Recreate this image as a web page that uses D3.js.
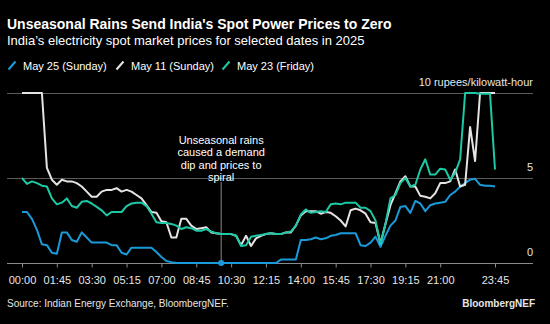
<!DOCTYPE html>
<html><head><meta charset="utf-8">
<script src="https://cdn.jsdelivr.net/npm/d3@7"></script>
<style>
html,body{margin:0;padding:0;background:#000;}
svg{display:block;font-family:"Liberation Sans",Arial,sans-serif;}
</style></head>
<body><svg id="c" width="550" height="324"></svg>
<script>
const times = d3.range(96).map(i => String(Math.floor(i/4)).padStart(2,"0") + ":" + String((i%4)*15).padStart(2,"0"));
const xTickLabels = ["00:00","01:45","03:30","05:15","07:00","08:45","10:30","12:15","14:00","15:45","17:30","19:15","21:00","23:45"];
const yTicks = [0,5,10];
const yTickLabels = ["0","5","10 rupees/kilowatt-hour"];
const seriesNames = ["May 25 (Sunday)","May 11 (Sunday)","May 23 (Friday)"];
const seriesColors = ["#1b9ad9","#e4e4e4","#1dc9a4"];

const may25 = [3.0,3.0,2.6,1.95,1.1,1.05,0.6,0.55,1.8,1.8,1.35,1.25,1.8,1.5,1.2,1.2,
  1.2,1.2,1.05,1.05,0.6,0.5,0.9,0.9,0.9,0.9,0.9,0.65,0.35,0.12,0.05,0,
  0,0,0,0,0,0,0,0,0,0,0,0,0,0,0,0,
  0,0,0,0,0.2,0.2,0.2,0.2,1.35,1.35,1.4,1.5,1.4,1.45,1.6,1.65,
  1.75,1.75,1.75,1.75,1.05,1.0,1.2,1.55,0.95,1.6,2.2,2.5,3.3,3.35,2.95,3.65,
  3.5,3.05,3.4,3.5,3.55,3.6,4.0,4.2,4.5,4.7,4.9,4.95,4.6,4.55,4.55,4.5];
const may11 = [10,10,10,10,10,5.6,4.9,4.6,4.9,4.8,4.8,4.7,4.5,4.2,3.9,3.9,
  4.2,4.3,4.3,4.4,4.2,4.3,4.2,4.0,3.8,3.4,3.0,2.95,2.45,2.4,1.5,1.5,
  2.6,2.6,2.2,2.0,2.05,2.1,1.8,1.75,1.7,1.7,1.7,1.6,1.05,1.6,1.0,1.45,
  1.6,1.7,1.75,1.7,1.7,1.8,1.8,2.2,2.8,3.05,3.05,3.05,2.9,3.0,2.95,2.75,
  2.5,2.15,3.1,3.2,3.1,2.9,2.4,2.35,1.15,2.3,3.4,4.1,4.8,5.1,4.5,4.5,
  3.95,3.9,3.8,4.1,4.7,4.7,4.8,5.5,4.5,4.6,8.0,6.0,10,10,10,10];
const may23 = [5.0,4.65,4.8,4.7,4.55,4.5,3.8,3.45,3.55,3.8,3.35,3.25,3.6,3.65,3.5,3.3,
  3.1,2.8,3.0,3.0,3.0,3.35,3.5,3.55,3.55,3.35,2.9,2.4,2.35,2.35,2.3,2.2,
  2.0,2.1,2.05,1.9,1.9,2.0,1.85,1.75,1.7,1.7,1.7,1.6,1.0,1.05,1.55,1.6,
  1.65,1.7,1.75,1.7,1.7,1.8,1.85,2.2,2.85,3.15,2.95,3.0,3.05,3.0,3.45,3.5,
  3.45,3.55,3.55,3.55,3.25,3.25,3.05,2.5,1.1,2.3,3.8,4.0,4.7,5.0,4.5,4.6,
  5.5,6.1,5.2,5.2,5.55,5.5,4.9,5.3,6.1,10,10,10,9.95,9.95,9.95,5.5];
const seriesValues = [may25, may11, may23];
const annotationTime = "10:00";
const annotationLines = ["Unseasonal rains","caused a demand","dip and prices to","spiral"];

const svg = d3.select("#c");
const x = d3.scalePoint().domain(times).range([22, 495]);
const y = d3.scaleLinear().domain([0, 10]).range([263, 93]);

// title
svg.append("text").attr("x",7).attr("y",28.5).attr("fill","#fff").attr("font-size",14).attr("font-weight","bold")
  .text("Unseasonal Rains Send India's Spot Power Prices to Zero");
svg.append("text").attr("x",7).attr("y",44.5).attr("fill","#fff").attr("font-size",13)
  .text("India’s electricity spot market prices for selected dates in 2025");

// legend
const legX = [8, 116, 222];
seriesNames.forEach((n, i) => {
  const g = svg.append("g").attr("transform", `translate(${legX[i]},0)`);
  g.append("line").attr("x1",0.5).attr("y1",69.5).attr("x2",7.5).attr("y2",61.5)
    .attr("stroke",seriesColors[i]).attr("stroke-width",2);
  g.append("text").attr("x",15).attr("y",69.5).attr("fill","#fff").attr("font-size",11).text(n);
});

// gridlines
svg.append("g").selectAll("line").data(yTicks).join("line")
  .attr("x1",7).attr("x2",533).attr("y1",d=>Math.round(y(d))+0.5).attr("y2",d=>Math.round(y(d))+0.5)
  .attr("stroke",d=>d===0?"#8a8a8a":"#5a5a5a").attr("stroke-width",1);
svg.append("g").selectAll("text").data(yTicks).join("text")
  .attr("x",533).attr("y",d=>y(d)-7).attr("text-anchor","end").attr("fill","#e6e6e6").attr("font-size",11)
  .text((d,i)=>yTickLabels[i]);

// x axis
const xAxis = d3.axisBottom(x).tickValues(xTickLabels).tickSize(4).tickPadding(9);
const ax = svg.append("g").attr("transform","translate(0,263.5)").call(xAxis);
ax.select(".domain").remove();
ax.selectAll(".tick line").attr("stroke","#8a8a8a");
ax.selectAll(".tick text").attr("fill","#e6e6e6").attr("font-size",11).attr("font-family","Liberation Sans, Arial, sans-serif");

// annotation
const ax0 = x(annotationTime);
svg.append("line").attr("x1",ax0).attr("x2",ax0).attr("y1",182).attr("y2",y(0))
  .attr("stroke","#8a8a8a").attr("stroke-width",1);
const at = svg.append("text").attr("text-anchor","middle").attr("fill","#fff").attr("font-size",11);
annotationLines.forEach((l,i)=>at.append("tspan").attr("x",ax0).attr("y",144+i*12.3).text(l));

// lines
const line = d3.line().x((d,i)=>x(times[i])).y(d=>y(d)).curve(d3.curveLinear);
seriesValues.forEach((vals, i) => {
  svg.append("path").datum(vals).attr("d", line).attr("fill","none")
    .attr("stroke", seriesColors[i]).attr("stroke-width", 2).attr("stroke-linejoin","round");
});

svg.append("circle").attr("cx",ax0).attr("cy",y(may25[times.indexOf(annotationTime)])).attr("r",3).attr("fill",seriesColors[0]);

// footer
svg.append("text").attr("x",7).attr("y",307).attr("fill","#e6e6e6").attr("font-size",10)
  .text("Source: Indian Energy Exchange, BloombergNEF.");
svg.append("text").attr("x",535).attr("y",307).attr("text-anchor","end").attr("fill","#e6e6e6").attr("font-size",10).attr("font-weight","bold")
  .text("BloombergNEF");
</script></body></html>
